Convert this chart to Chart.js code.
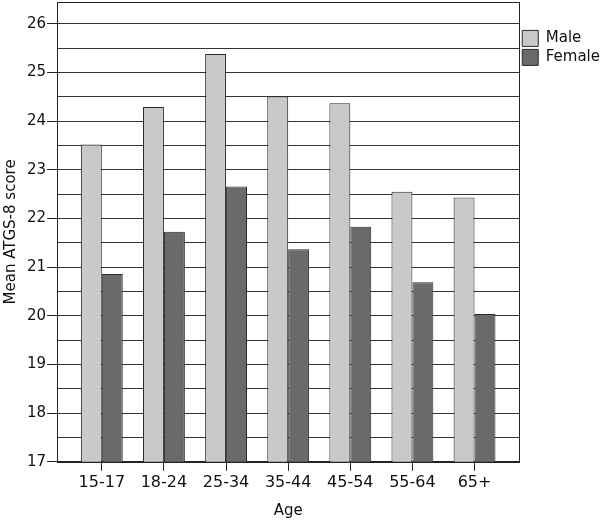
<!DOCTYPE html>
<html>
<head>
<meta charset="utf-8">
<script src="https://cdn.jsdelivr.net/npm/chart.js@4.4.0/dist/chart.umd.min.js"></script>
<style>
  html, body { margin: 0; padding: 0; background: #fff; }
  #wrap { width: 600px; height: 521px; }
</style>
</head>
<body>
<div id="wrap"><canvas id="atgsChart"></canvas></div>
<script>
// Age groups and mean scores
const ageGroups = ["15-17", "18-24", "25-34", "35-44", "45-54", "55-64", "65+"];
const maleScores = [23.52, 24.29, 25.38, 24.51, 24.37, 22.55, 22.43];
const femaleScores = [20.86, 21.73, 22.66, 21.37, 21.83, 20.69, 20.04];
const yTickValues = [17, 18, 19, 20, 21, 22, 23, 24, 25, 26];

const fontFamily = "'DejaVu Sans', 'Noto Sans', sans-serif";

// frame round the plot area
const frame = {
    id: "frame",
    afterDraw(chart) {
        const { ctx, chartArea: a } = chart;
        ctx.save();
        ctx.strokeStyle = "#222";
        ctx.lineWidth = 1;
        ctx.strokeRect(Math.round(a.left) + 0.5, Math.round(a.top) + 0.5,
            Math.round(a.right - a.left), Math.round(a.bottom - a.top));
        ctx.restore();
    },
};

const toPoints = (vals) => vals.map((v, i) => ({ x: i, y: v }));

new Chart(document.getElementById("atgsChart"), {
    type: "bar",
    data: {
        datasets: [
            {
                label: "Male",
                data: toPoints(maleScores),
                backgroundColor: "#c9c9c9",
                borderColor: "#2a2a2a",
                borderWidth: 1,
            },
            {
                label: "Female",
                data: toPoints(femaleScores),
                backgroundColor: "#6a6a6a",
                borderColor: "#2a2a2a",
                borderWidth: 1,
            },
        ],
    },
    options: {
        responsive: true,
        maintainAspectRatio: false,
        animation: false,
        categoryPercentage: 0.674,
        barPercentage: 1,
        layout: { padding: { top: 2, left: 0, right: -10, bottom: 0 } },
        plugins: {
            tooltip: { enabled: false },
            legend: {
                position: "right",
                align: "start",
                title: { display: true, text: " ", padding: { top: 11, bottom: 0 } },
                labels: {
                    boxWidth: 16,
                    boxHeight: 16,
                    padding: 3,
                    color: "#111",
                    font: { family: fontFamily, size: 15 },
                },
            },
        },
        scales: {
            x: {
                type: "linear",
                min: -0.72,
                max: 6.72,
                offset: false,
                afterBuildTicks: (scale) => {
                    scale.ticks = ageGroups.map((_, i) => ({ value: i }));
                },
                ticks: {
                    color: "#111",
                    font: { family: fontFamily, size: 16 },
                    padding: 2,
                    maxRotation: 0,
                    autoSkip: false,
                    callback: (v) => ageGroups[v] ?? "",
                },
                grid: { drawOnChartArea: false, offset: false, tickLength: 9, color: "#222" },
                border: { color: "#222" },
                title: {
                    display: true,
                    text: "Age",
                    color: "#111",
                    font: { family: fontFamily, size: 15 },
                    padding: { top: 8, bottom: 1 },
                },
            },
            y: {
                min: 17,
                max: 26.45,
                afterFit: (scale) => {
                    scale.paddingTop = 0;
                    scale.paddingBottom = 0;
                },
                ticks: {
                    stepSize: 0.5,
                    includeBounds: false,
                    color: "#111",
                    font: { family: fontFamily, size: 15 },
                    padding: 1,
                    callback: (v) => (yTickValues.includes(v) ? String(v) : ""),
                },
                grid: {
                    color: "#333",
                    lineWidth: 1,
                    tickLength: 10,
                    tickColor: (c) => (yTickValues.includes(c.tick.value) ? "#222" : "rgba(0,0,0,0)"),
                },
                border: { color: "#222" },
                title: {
                    display: true,
                    text: "Mean ATGS-8 score",
                    color: "#111",
                    font: { family: fontFamily, size: 15 },
                    padding: { top: 2, bottom: 6 },
                },
            },
        },
    },
    plugins: [frame],
});
</script>
</body>
</html>
